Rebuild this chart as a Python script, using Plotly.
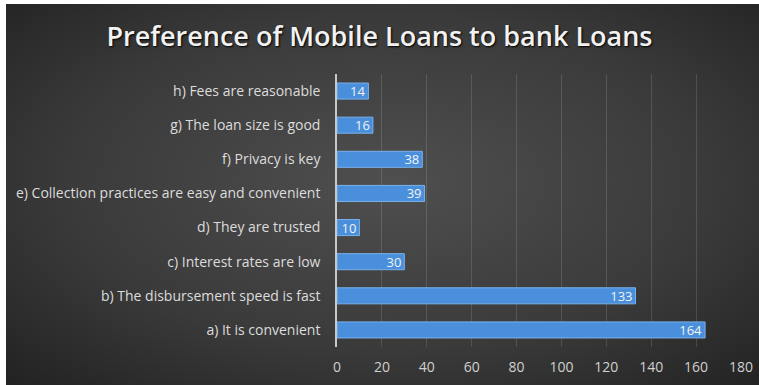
import base64
import plotly.graph_objects as go

# Survey responses: reasons for preferring mobile loans over bank loans
reasons = [
    "a) It is convenient",
    "b) The disbursement speed is fast",
    "c) Interest rates are low",
    "d) They are trusted",
    "e) Collection practices are easy and convenient",
    "f) Privacy is key",
    "g) The loan size is good",
    "h) Fees are reasonable",
]
counts = [164, 133, 30, 10, 39, 38, 16, 14]
x_ticks = [0, 20, 40, 60, 80, 100, 120, 140, 160, 180]

W, H = 759, 385
L, R, T, B = 337, 18, 74, 38
plot_w = W - L - R
plot_h = H - T - B

# Dark radial-gradient backdrop as an inline SVG
svg = (
    '<svg xmlns="http://www.w3.org/2000/svg" width="800" height="400" preserveAspectRatio="none">'
    '<defs><radialGradient id="g" cx="50%" cy="45%" r="75%">'
    '<stop offset="0%" stop-color="#4f4f4f"/>'
    '<stop offset="55%" stop-color="#3a3a3a"/>'
    '<stop offset="100%" stop-color="#1e1e1e"/>'
    '</radialGradient></defs>'
    '<rect width="800" height="400" fill="url(#g)"/></svg>'
)
bg_src = "data:image/svg+xml;base64," + base64.b64encode(svg.encode()).decode()

fig = go.Figure()
fig.add_trace(go.Bar(
    y=reasons,
    x=counts,
    orientation="h",
    width=0.47,
    marker=dict(color="#4a8fdb", line=dict(color="#79b1ec", width=1)),
    text=counts,
    textposition="inside",
    insidetextanchor="end",
    textangle=0,
    constraintext="none",
    textfont=dict(family="Open Sans", size=13, color="#f2f2f2"),
    cliponaxis=False,
    hoverinfo="skip",
))

fig.update_layout(
    width=W,
    height=H,
    autosize=False,
    margin=dict(l=L, r=R, t=T, b=B, pad=0, autoexpand=False),
    paper_bgcolor="#262626",
    plot_bgcolor="rgba(0,0,0,0)",
    showlegend=False,
    title=dict(
        text="Preference of Mobile Loans to bank Loans",
        x=0.5,
        xref="container",
        xanchor="center",
        y=1 - 37 / H,
        yref="container",
        yanchor="middle",
        font=dict(family="Open Sans", size=27, weight=600, color="#f2f2f2",
                  shadow="1px 1px 2px #000000"),
    ),
    xaxis=dict(
        range=[0, 180],
        tickvals=x_ticks,
        showgrid=True,
        gridcolor="rgba(255,255,255,0.13)",
        gridwidth=1,
        zeroline=False,
        showline=False,
        ticks="",
        ticklabelstandoff=10,
        tickfont=dict(family="Open Sans", size=14, color="#d0d0d0"),
    ),
    yaxis=dict(
        showgrid=False,
        zeroline=False,
        showline=True,
        linecolor="#c8c8c8",
        linewidth=1.5,
        ticks="",
        ticklabelstandoff=12,
        tickfont=dict(family="Open Sans", size=14, color="#dcdcdc"),
        categoryorder="array",
        categoryarray=reasons,
    ),
    images=[dict(
        source=bg_src,
        xref="paper",
        yref="paper",
        x=-L / plot_w,
        y=(H - B) / plot_h,
        sizex=(W + 20) / plot_w,
        sizey=(H + 20) / plot_h,
        xanchor="left",
        yanchor="top",
        sizing="stretch",
        layer="below",
    )],
    shapes=[
        # thin white border strips along the left and top edges
        dict(type="rect", xref="paper", yref="paper",
             x0=-L / plot_w, x1=(6 - L) / plot_w,
             y0=-B / plot_h, y1=(H - B) / plot_h,
             fillcolor="white", line=dict(width=0), layer="above"),
        dict(type="rect", xref="paper", yref="paper",
             x0=-L / plot_w, x1=(W - L) / plot_w,
             y0=(H - B - 4) / plot_h, y1=(H - B) / plot_h,
             fillcolor="white", line=dict(width=0), layer="above"),
    ],
    font=dict(family="Open Sans"),
)

fig.write_html("out.html")
